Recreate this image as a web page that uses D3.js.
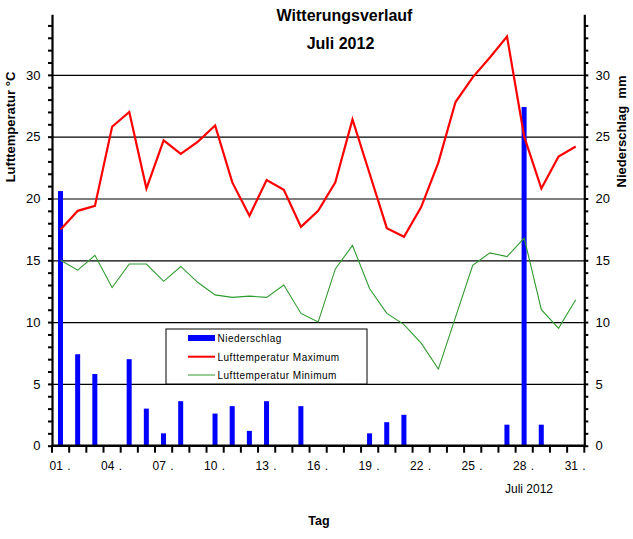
<!DOCTYPE html>
<html>
<head>
<meta charset="utf-8">
<script src="https://cdn.jsdelivr.net/npm/d3@7"></script>
<style>
  html, body { margin: 0; padding: 0; background: #fff; }
  svg { display: block; font-family: Arial, "Liberation Sans", sans-serif; }
</style>
</head>
<body>
<svg id="chart" width="633" height="539"></svg>
<script>
// ---- data ----
const days = [1,2,3,4,5,6,7,8,9,10,11,12,13,14,15,16,17,18,19,20,21,22,23,24,25,26,27,28,29,30,31];
const precip = [20.6,7.4,5.8,0,7.0,3.0,1.0,3.6,0,2.6,3.2,1.2,3.6,0,3.2,0,0,0,1.0,1.9,2.5,0,0,0,0,0,1.7,27.4,1.7,0,0];
const tmax = [17.5,19.0,19.4,25.8,27.0,20.8,24.7,23.6,24.6,25.9,21.3,18.6,21.5,20.7,17.7,19.0,21.3,26.4,22.0,17.6,16.9,19.3,22.9,27.8,29.8,31.4,33.1,25.0,20.8,23.4,24.2];
const tmin = [15.0,14.2,15.4,12.8,14.7,14.7,13.3,14.5,13.2,12.2,12.0,12.1,12.0,13.0,10.7,10.0,14.3,16.2,12.7,10.7,9.8,8.3,6.2,10.4,14.6,15.6,15.3,16.8,11.0,9.5,11.8];
const labelDays = [1,4,7,10,13,16,19,22,25,28,31];
const labelTexts = ["01","04","07","10","13","16","19","22","25","28","31"];
const yTicks = [0,5,10,15,20,25,30];
const gridTicks = [5,10,15,20,25,30];
const minorTicks = [0,1,2,3,4,5,6,7,8,9,10,11,12,13,14,15,16,17,18,19,20,21,22,23,24,25,26,27,28,29,30,31,32,33,34];
const title1 = "Witterungsverlauf";
const title2 = "Juli 2012";
const legendItems = ["Niederschlag", "Lufttemperatur Maximum", "Lufttemperatur Minimum"];

// ---- layout ----
const svg = d3.select("#chart");
const pL = 52, pR = 584.3, pT = 14.3, pB = 445.7;
const x = d3.scaleBand().domain(days).range([pL, pR]).padding(0);
const y = d3.scaleLinear().domain([0, 34.9]).range([pB, pT]);
const bw = x.bandwidth();
const cx = d => x(d) + bw / 2;

// gridlines
const grid = svg.append("g").attr("transform", `translate(${pL},0)`)
  .call(d3.axisLeft(y).tickValues(gridTicks).tickSize(-(pR - pL)).tickFormat(""));
grid.select(".domain").remove();
grid.selectAll("line").attr("stroke", "#000").attr("stroke-width", 1.2);

// bars
svg.append("g").selectAll("rect").data(days.filter((d, i) => precip[i] > 0)).join("rect")
  .attr("x", d => cx(d) - 2.6)
  .attr("width", 5)
  .attr("y", d => y(precip[d - 1]))
  .attr("height", d => pB - y(precip[d - 1]))
  .attr("fill", "#0000ff");

// lines
const line = arr => d3.line().x(d => cx(d)).y(d => y(arr[d - 1]))(days);
svg.append("path").attr("d", line(tmin)).attr("fill", "none").attr("stroke", "#2e9b2e").attr("stroke-width", 1.1);
svg.append("path").attr("d", line(tmax)).attr("fill", "none").attr("stroke", "#ff0000").attr("stroke-width", 2.2);

// left axis
const la = svg.append("g").attr("transform", `translate(${pL},0)`)
  .call(d3.axisLeft(y).tickValues(minorTicks).tickSize(4).tickSizeOuter(0).tickFormat(""));
la.select(".domain").attr("stroke-width", 2.2);
la.selectAll("line").attr("stroke-width", 2);
svg.append("g").selectAll("text").data(yTicks).join("text")
  .attr("x", 40.5).attr("y", d => y(d)).attr("dy", "0.36em")
  .attr("text-anchor", "end").attr("font-size", 13).text(d => d);

// right axis
const ra = svg.append("g").attr("transform", `translate(${pR},0)`)
  .call(d3.axisRight(y).tickValues(minorTicks).tickSize(4).tickSizeOuter(0).tickFormat(""));
ra.select(".domain").attr("stroke-width", 2.2);
ra.selectAll("line").attr("stroke-width", 2);
svg.append("g").selectAll("text").data(yTicks).join("text")
  .attr("x", 595.5).attr("y", d => y(d)).attr("dy", "0.36em")
  .attr("text-anchor", "start").attr("font-size", 13).text(d => d);

// bottom axis
const edges = days.map(d => x(d)).concat([pR]);
const xb = svg.append("g").attr("transform", `translate(0,${pB})`);
xb.append("path").attr("d", `M${pL},0H${pR}`).attr("stroke", "#000").attr("stroke-width", 2.4);
xb.selectAll("line").data(edges).join("line")
  .attr("x1", d => d).attr("x2", d => d).attr("y1", 0).attr("y2", 7)
  .attr("stroke", "#000").attr("stroke-width", 2);
const xl = svg.append("g").selectAll("text").data(labelDays).join("text")
  .attr("x", d => x(d) - 2.5).attr("y", 470).attr("font-size", 12);
xl.append("tspan").text((d, i) => labelTexts[i]);
xl.append("tspan").attr("x", d => x(d) + bw - 2).text(".");

svg.append("text").attr("x", 529).attr("y", 493).attr("text-anchor", "middle")
  .attr("font-size", 12).text(title2);
svg.append("text").attr("x", 319).attr("y", 525).attr("text-anchor", "middle")
  .attr("font-size", 12.5).attr("font-weight", "bold").text("Tag");

// titles
svg.append("text").attr("x", 344.5).attr("y", 21).attr("text-anchor", "middle")
  .attr("font-size", 16).attr("font-weight", "bold").text(title1);
svg.append("text").attr("x", 340.5).attr("y", 49).attr("text-anchor", "middle")
  .attr("font-size", 16).attr("font-weight", "bold").text(title2);

// axis titles
svg.append("text").attr("transform", "translate(15,127) rotate(-90)").attr("text-anchor", "middle")
  .attr("font-size", 13).attr("font-weight", "bold").text("Lufttemperatur °C");
svg.append("text").attr("transform", "translate(626,131.5) rotate(-90)").attr("text-anchor", "middle")
  .attr("font-size", 13).attr("font-weight", "bold").style("white-space", "pre").text("Niederschlag  mm");

// legend
const lg = svg.append("g");
lg.append("rect").attr("x", 166).attr("y", 329).attr("width", 201).attr("height", 55)
  .attr("fill", "#fff").attr("stroke", "#000").attr("stroke-width", 1);
lg.append("rect").attr("x", 188).attr("y", 335).attr("width", 27).attr("height", 6).attr("fill", "#0000ff");
lg.append("line").attr("x1", 188).attr("x2", 215).attr("y1", 356.7).attr("y2", 356.7).attr("stroke", "#ff0000").attr("stroke-width", 2);
lg.append("line").attr("x1", 188).attr("x2", 215).attr("y1", 375).attr("y2", 375).attr("stroke", "#2e9b2e").attr("stroke-width", 1);
lg.selectAll("text.lt").data(legendItems).join("text").attr("class", "lt")
  .attr("x", 217.5).attr("y", (d, i) => [342, 361, 379][i])
  .attr("font-size", 10).attr("letter-spacing", 0.5).text(d => d);
</script>
</body>
</html>
